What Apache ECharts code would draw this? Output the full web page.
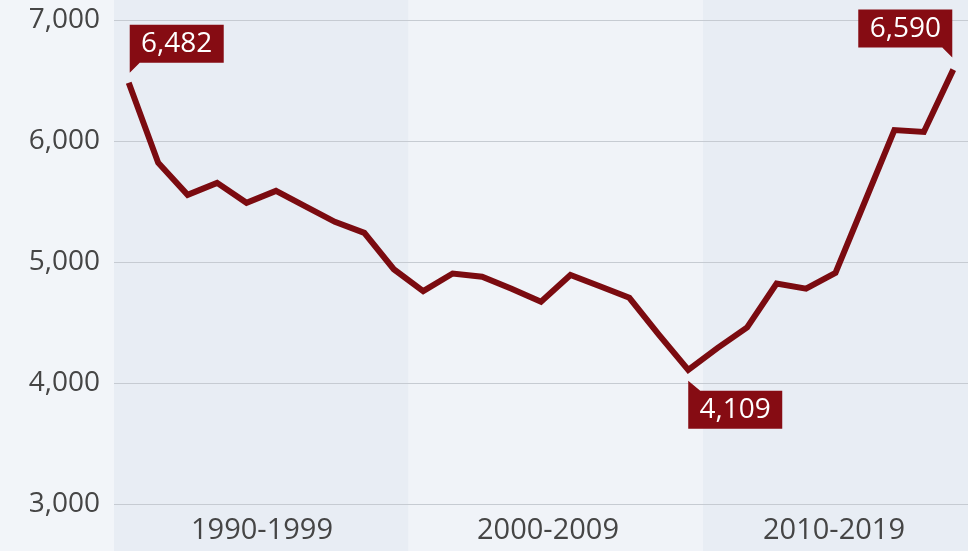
<!DOCTYPE html>
<html>
<head>
<meta charset="utf-8">
<title>chart</title>
<script src="https://cdn.jsdelivr.net/npm/echarts@6/dist/echarts.min.js"></script>
<style>
    html, body {margin: 0; padding: 0; background: #f2f5f9;}
    #container_l {width: 968px; height: 551px;}
</style>
</head>
<body>
<div id="container_l"></div>
<script>
// 数据
var years = ["1990", "1991", "1992", "1993", "1994", "1995", "1996", "1997", "1998", "1999",
    "2000", "2001", "2002", "2003", "2004", "2005", "2006", "2007", "2008", "2009",
    "2010", "2011", "2012", "2013", "2014", "2015", "2016", "2017", "2018"];
var values = [6482, 5820, 5555, 5654, 5489, 5588, 5460, 5332, 5241, 4940,
    4760, 4905, 4878, 4779, 4671, 4892, 4800, 4704, 4400, 4109,
    4290, 4460, 4822, 4780, 4910, 5500, 6090, 6075, 6590];
var decades = ["1990-1999", "2000-2009", "2010-2019"];
var yTicks = [3000, 4000, 5000, 6000, 7000];

var lineColor = "#7b0b10";
var boxColor = "#860c13";
var textColor = "#454545";
var font = "'Open Sans', 'Noto Sans', sans-serif";

function fmt(v) {
    return Number(v).toLocaleString("en-US");
}

// 标注框 (带小尖角)
function boxMark(i, path, offset, labelDy) {
    return {
        coord: [years[i], values[i]],
        value: values[i],
        symbol: path,
        symbolSize: [94, 48],
        symbolOffset: offset,
        label: {offset: [0, labelDy]}
    };
}

function buildLine() {
    var line = document.getElementById("container_l");
    var myLine = echarts.init(line, null, {renderer: "canvas"});
    var Loption = {
        animation: false,
        backgroundColor: "#f2f5f9",
        grid: [
            {left: 114, right: 0, top: 0, bottom: 0},
            {left: 114, right: 0, top: 20, bottom: 47},
            {left: 262, right: 134, top: 20, bottom: 47}
        ],
        xAxis: [
            {
                // 背景色块 (每十年)
                gridIndex: 0,
                type: "category",
                data: years,
                boundaryGap: true,
                z: -1,
                axisLine: {show: false},
                axisTick: {show: false},
                axisLabel: {show: false},
                splitLine: {show: false},
                splitArea: {
                    show: true,
                    interval: 9,
                    areaStyle: {color: ["#e8edf4", "#f0f3f8"]}
                }
            },
            {
                gridIndex: 1,
                type: "category",
                data: years,
                boundaryGap: true,
                axisLine: {show: false},
                axisTick: {show: false},
                axisLabel: {show: false},
                splitLine: {show: false}
            },
            {
                gridIndex: 2,
                type: "category",
                data: decades,
                boundaryGap: false,
                axisLine: {show: false},
                axisTick: {show: false},
                axisLabel: {
                    fontFamily: font,
                    fontSize: 29,
                    color: textColor,
                    margin: 12
                },
                splitLine: {show: false}
            }
        ],
        yAxis: [
            {gridIndex: 0, type: "value", show: false},
            {
                gridIndex: 1,
                type: "value",
                min: yTicks[0],
                max: yTicks[yTicks.length - 1],
                interval: 1000,
                z: 1,
                axisLine: {show: false},
                axisTick: {show: false},
                axisLabel: {
                    fontFamily: font,
                    fontSize: 28,
                    color: textColor,
                    margin: 14,
                    formatter: function (v) {
                        return fmt(v);
                    }
                },
                splitLine: {
                    show: true,
                    lineStyle: {color: "#c6cbd2", width: 1}
                }
            },
            {gridIndex: 2, type: "value", show: false}
        ],
        series: [{
            type: "line",
            xAxisIndex: 1,
            yAxisIndex: 1,
            data: values,
            symbol: "none",
            z: 3,
            lineStyle: {color: lineColor, width: 6, join: "miter", cap: "butt"},
            markPoint: {
                z: 5,
                itemStyle: {color: boxColor},
                label: {
                    show: true,
                    position: "inside",
                    fontFamily: font,
                    fontSize: 28,
                    color: "#ffffff",
                    formatter: function (p) {
                        return fmt(p.value);
                    }
                },
                data: [
                    boxMark(0, "path://M0,0 L94,0 L94,38 L10,38 L0,48 Z", [48, -34], -5),
                    boxMark(19, "path://M0,0 L12,10 L94,10 L94,48 L0,48 Z", [47, 35], 5),
                    boxMark(28, "path://M0,0 L94,0 L94,48 L84,38 L0,38 Z", [-48, -36], -5)
                ]
            }
        }]
    };
    if (Loption && typeof Loption === "object") {
        myLine.setOption(Loption, true);
    }
}

buildLine();
</script>
</body>
</html>
